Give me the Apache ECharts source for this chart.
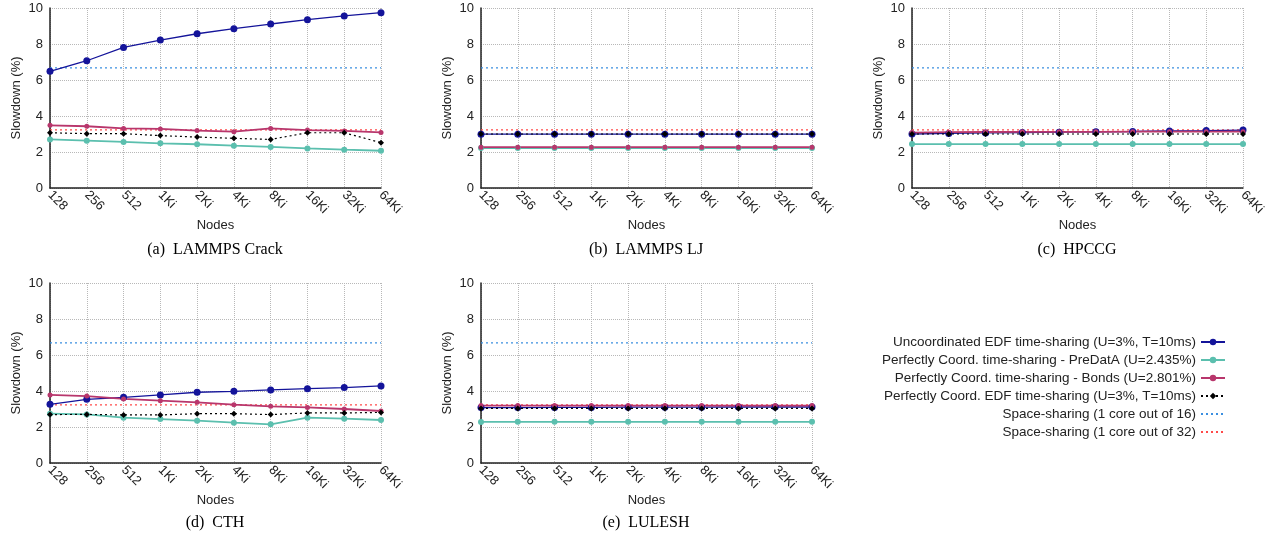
<!DOCTYPE html>
<html>
<head>
<meta charset="utf-8">
<script src="https://cdn.jsdelivr.net/npm/echarts@6/dist/echarts.min.js"></script>
<style>
html,body{margin:0;padding:0;background:#fff;}
#chart{width:1273px;height:537px;}
</style>
</head>
<body>
<div id="chart"></div>
<script>
// ---------- data ----------
const categories = ['128','256','512','1Ki','2Ki','4Ki','8Ki','16Ki','32Ki','64Ki'];
const yTicks = [0, 2, 4, 6, 8, 10];

const seriesNames = [
  'Uncoordinated EDF time-sharing (U=3%, T=10ms)',
  'Perfectly Coord. time-sharing - PreDatA (U=2.435%)',
  'Perfectly Coord. time-sharing - Bonds (U=2.801%)',
  'Perfectly Coord. EDF time-sharing (U=3%, T=10ms)',
  'Space-sharing (1 core out of 16)',
  'Space-sharing (1 core out of 32)'
];
const panelTitles = ['(a)  LAMMPS Crack', '(b)  LAMMPS LJ', '(c)  HPCCG', '(d)  CTH', '(e)  LULESH'];

// (a) LAMMPS Crack
const crackUncoord = [6.48, 7.07, 7.81, 8.22, 8.57, 8.85, 9.11, 9.35, 9.56, 9.74];
const crackPreDatA = [2.70, 2.63, 2.56, 2.48, 2.43, 2.35, 2.28, 2.20, 2.13, 2.07];
const crackBonds   = [3.48, 3.43, 3.31, 3.28, 3.19, 3.13, 3.31, 3.22, 3.17, 3.09];
const crackEDF     = [3.07, 3.02, 3.02, 2.91, 2.83, 2.76, 2.70, 3.07, 3.07, 2.52];
// (b) LAMMPS LJ
const ljUncoord = [2.99, 2.99, 2.99, 2.99, 2.99, 2.99, 2.99, 2.99, 2.99, 2.99];
const ljPreDatA = [2.22, 2.22, 2.22, 2.22, 2.22, 2.22, 2.22, 2.22, 2.22, 2.22];
const ljBonds   = [2.27, 2.27, 2.27, 2.27, 2.27, 2.27, 2.27, 2.27, 2.27, 2.27];
const ljEDF     = [3.00, 3.00, 3.00, 3.00, 3.00, 3.00, 3.00, 3.00, 3.00, 3.00];
// (c) HPCCG
const hpccgUncoord = [3.00, 3.03, 3.06, 3.08, 3.10, 3.12, 3.14, 3.17, 3.19, 3.22];
const hpccgPreDatA = [2.44, 2.44, 2.44, 2.44, 2.44, 2.44, 2.44, 2.44, 2.44, 2.44];
const hpccgBonds   = [3.08, 3.10, 3.11, 3.12, 3.12, 3.12, 3.13, 3.13, 3.13, 3.13];
const hpccgEDF     = [3.00, 3.00, 3.00, 3.00, 3.00, 3.00, 3.00, 3.00, 3.00, 3.00];
// (d) CTH
const cthUncoord = [3.26, 3.54, 3.65, 3.78, 3.93, 3.98, 4.06, 4.13, 4.19, 4.28];
const cthPreDatA = [2.74, 2.70, 2.52, 2.44, 2.35, 2.24, 2.15, 2.52, 2.46, 2.39];
const cthBonds   = [3.78, 3.72, 3.56, 3.46, 3.37, 3.24, 3.15, 3.09, 3.00, 2.89];
const cthEDF     = [2.69, 2.70, 2.67, 2.67, 2.74, 2.74, 2.69, 2.78, 2.78, 2.81];
// (e) LULESH
const luleshUncoord = [3.08, 3.08, 3.09, 3.09, 3.10, 3.10, 3.10, 3.11, 3.11, 3.11];
const luleshPreDatA = [2.28, 2.29, 2.29, 2.29, 2.29, 2.29, 2.29, 2.29, 2.29, 2.29];
const luleshBonds   = [3.19, 3.19, 3.19, 3.19, 3.19, 3.19, 3.19, 3.19, 3.19, 3.19];
const luleshEDF     = [3.03, 3.03, 3.03, 3.03, 3.03, 3.03, 3.03, 3.03, 3.03, 3.03];
// space-sharing reference levels (same in every panel)
const space16 = [6.67, 6.67, 6.67, 6.67, 6.67, 6.67, 6.67, 6.67, 6.67, 6.67];
const space32 = [3.23, 3.23, 3.23, 3.23, 3.23, 3.23, 3.23, 3.23, 3.23, 3.23];

const panelData = [
  [crackUncoord, crackPreDatA, crackBonds, crackEDF],
  [ljUncoord, ljPreDatA, ljBonds, ljEDF],
  [hpccgUncoord, hpccgPreDatA, hpccgBonds, hpccgEDF],
  [cthUncoord, cthPreDatA, cthBonds, cthEDF],
  [luleshUncoord, luleshPreDatA, luleshBonds, luleshEDF]
];

// ---------- layout & style ----------
const grids = [
  {left: 50,  top: 8,   width: 331, height: 180},
  {left: 481, top: 8,   width: 331, height: 180},
  {left: 912, top: 8,   width: 331, height: 180},
  {left: 50,  top: 283, width: 331, height: 180},
  {left: 481, top: 283, width: 331, height: 180}
];
const captionPos = [[215, 250], [646, 250], [1077, 250], [215, 523], [646, 523]];

const styles = [
  {color: '#14149a', width: 1.3, type: 'solid', symbol: 'circle', size: 7},
  {color: '#5bbfae', width: 1.8, type: 'solid', symbol: 'circle', size: 6},
  {color: '#b8366c', width: 1.8, type: 'solid', symbol: 'circle', size: 5},
  {color: '#000000', width: 1.2, type: [2, 3], symbol: 'diamond', size: 6},
  {color: '#3b8fe0', width: 1.2, type: [2, 3], symbol: 'none', size: 0},
  {color: '#ff4a4a', width: 1.2, type: [2, 3], symbol: 'none', size: 0}
];

const fontFam = '"Liberation Sans", Arial, Helvetica, sans-serif';

const xAxes = [], yAxes = [], series = [], graphics = [];
grids.forEach((g, i) => {
  xAxes.push({
    gridIndex: i, type: 'category', data: categories, boundaryGap: false,
    name: 'Nodes', nameLocation: 'middle', nameGap: 26,
    nameTextStyle: {fontFamily: fontFam, fontSize: 13, color: '#222'},
    axisLine: {show: true, lineStyle: {color: '#222', width: 1.5}},
    axisTick: {show: false},
    axisLabel: {rotate: -45, margin: 5, fontFamily: fontFam, fontSize: 13, color: '#222', interval: 0},
    splitLine: {show: true, lineStyle: {color: '#b8b8b8', type: [1, 1], width: 1}}
  });
  yAxes.push({
    gridIndex: i, type: 'value', min: yTicks[0], max: yTicks[yTicks.length - 1], interval: yTicks[1] - yTicks[0],
    name: 'Slowdown (%)', nameLocation: 'middle', nameGap: 27,
    nameTextStyle: {fontFamily: fontFam, fontSize: 13, color: '#222'},
    axisLine: {show: true, lineStyle: {color: '#222', width: 1.5}},
    axisTick: {show: false},
    axisLabel: {margin: 7, fontFamily: fontFam, fontSize: 13, color: '#222'},
    splitLine: {show: true, lineStyle: {color: '#b8b8b8', type: [1, 1], width: 1}}
  });
  const vals = panelData[i].concat([space16, space32]);
  vals.forEach((arr, k) => {
    const s = styles[k];
    series.push({
      name: seriesNames[k], type: 'line', xAxisIndex: i, yAxisIndex: i,
      data: arr, symbol: s.symbol, symbolSize: s.size, showSymbol: s.symbol !== 'none',
      lineStyle: {color: s.color, width: s.width, type: s.type},
      itemStyle: {color: s.color},
      z: k === 3 ? 4 : (k >= 4 ? 1 : 3),
      animation: false
    });
  });
  graphics.push({
    type: 'text', x: captionPos[i][0], y: captionPos[i][1],
    style: {text: panelTitles[i], fill: '#000', font: '16px "Liberation Serif", "Times New Roman", serif',
            textAlign: 'center', textVerticalAlign: 'middle'}
  });
});

const legendData = seriesNames.map((n, k) =>
  styles[k].symbol === 'none' ? {name: n, itemStyle: {opacity: 0}} : {name: n});

const chart = echarts.init(document.getElementById('chart'), null, {renderer: 'canvas'});
chart.setOption({
  backgroundColor: '#fff',
  animation: false,
  grid: grids,
  xAxis: xAxes,
  yAxis: yAxes,
  series: series,
  graphic: graphics,
  legend: {
    data: legendData, orient: 'vertical', align: 'right',
    right: 42, top: 330, itemWidth: 24, itemHeight: 8, itemGap: 4,
    textStyle: {fontFamily: fontFam, fontSize: 13.5, color: '#222'}
  }
});
</script>
</body>
</html>
